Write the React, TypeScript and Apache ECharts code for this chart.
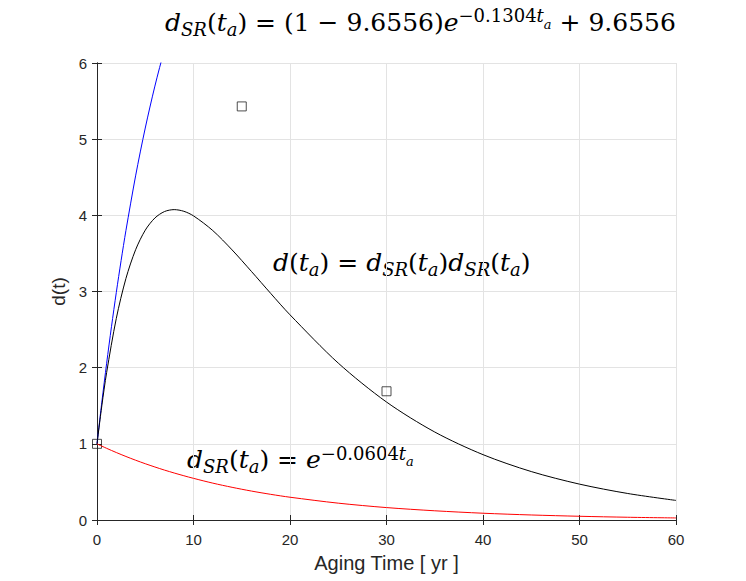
import React, { useEffect, useRef } from "react";
import * as echarts from "echarts";

// Aging time (yr)
const tBlue = [0, 0.5, 1, 1.5, 2, 2.5, 3, 4, 5, 6, 7, 8];
const dBlue = [1, 1.546, 2.058, 2.538, 2.987, 3.408, 3.802, 4.518, 5.146, 5.697, 6.181, 6.606];

const tCurve = [0, 0.5, 1, 2, 3, 4, 5, 6, 7, 8, 9, 10, 12, 14, 16, 18, 20, 25, 30, 35, 40, 45, 50, 55, 60];
const dRed = [1, 0.970, 0.941, 0.886, 0.834, 0.785, 0.739, 0.696, 0.655, 0.617, 0.581, 0.547, 0.484, 0.429, 0.380, 0.337, 0.299, 0.221, 0.163, 0.121, 0.089, 0.066, 0.049, 0.036, 0.027];
const dBlack = [1, 1.500, 1.937, 2.647, 3.172, 3.548, 3.805, 3.965, 4.050, 4.075, 4.053, 3.993, 3.800, 3.546, 3.264, 2.975, 2.694, 2.060, 1.549, 1.155, 0.858, 0.636, 0.471, 0.348, 0.257];

const tMeasured = [0, 15, 30];
const dMeasured = [1, 5.43, 1.69];

const xTicks = [0, 10, 20, 30, 40, 50, 60];
const yTicks = [0, 1, 2, 3, 4, 5, 6];

const zip = (a: number[], b: number[]) => a.map((v, i) => [v, b[i]]);

const FONT = "DejaVu Serif";
const FS = 25;
const SFS = 18;

function richStyles(color: string, supRaise: number) {
  return {
    i: { fontFamily: FONT, fontStyle: "italic", fontSize: FS, color },
    n: { fontFamily: FONT, fontSize: FS, color },
    s: { fontFamily: FONT, fontStyle: "italic", fontSize: SFS, color, padding: [14, 0, 0, 0] },
    p: { fontFamily: FONT, fontSize: SFS, color, padding: [0, 0, supRaise, 0] },
    pi: { fontFamily: FONT, fontStyle: "italic", fontSize: SFS, color, padding: [0, 0, supRaise, 0] },
    ps: { fontFamily: FONT, fontStyle: "italic", fontSize: 13, color, padding: [4, 0, 0, 0] },
  };
}

export default function App() {
  const ref = useRef<HTMLDivElement>(null);
  useEffect(() => {
    const chart = echarts.init(ref.current!, null, { renderer: "svg" });
    const axisColor = "#262626";
    const sans = "Liberation Sans";
    chart.setOption({
      animation: false,
      backgroundColor: "#ffffff",
      grid: { left: 97, top: 63, width: 579, height: 457, containLabel: false },
      xAxis: [
        {
          type: "value",
          min: xTicks[0],
          max: xTicks[xTicks.length - 1],
          interval: 10,
          name: "Aging Time [ yr ]",
          nameLocation: "middle",
          nameGap: 33,
          nameTextStyle: { fontFamily: sans, fontSize: 20, color: axisColor },
          axisLine: { lineStyle: { color: axisColor, width: 1 } },
          axisTick: { inside: true, length: 5, lineStyle: { color: axisColor } },
          axisLabel: { fontFamily: sans, fontSize: 15, color: axisColor, margin: 12 },
          splitLine: { show: true, lineStyle: { color: "#e3e3e3", width: 1 } },
        },
        {
          type: "value",
          position: "top",
          min: 0,
          max: 60,
          interval: 10,
          axisLine: { show: true, lineStyle: { color: axisColor } },
          axisTick: { show: true, inside: true, length: 5, lineStyle: { color: axisColor } },
          axisLabel: { show: false },
          splitLine: { show: false },
        },
      ],
      yAxis: [
        {
          type: "value",
          min: yTicks[0],
          max: yTicks[yTicks.length - 1],
          interval: 1,
          name: "d(t)",
          nameLocation: "middle",
          nameGap: 26,
          nameRotate: 90,
          nameTextStyle: { fontFamily: sans, fontSize: 19, color: axisColor },
          axisLine: { show: true, lineStyle: { color: axisColor, width: 1 } },
          axisTick: { show: true, inside: true, length: 5, lineStyle: { color: axisColor } },
          axisLabel: { fontFamily: sans, fontSize: 15, color: axisColor, margin: 10 },
          splitLine: { show: true, lineStyle: { color: "#e3e3e3", width: 1 } },
        },
        {
          type: "value",
          position: "right",
          min: 0,
          max: 6,
          interval: 1,
          axisLine: { show: true, lineStyle: { color: axisColor } },
          axisTick: { show: true, inside: true, length: 5, lineStyle: { color: axisColor } },
          axisLabel: { show: false },
          splitLine: { show: false },
        },
      ],
      series: [
        {
          type: "line",
          data: zip(tBlue, dBlue),
          smooth: 0.3,
          showSymbol: false,
          clip: true,
          lineStyle: { color: "#0000ff", width: 1 },
        },
        {
          type: "line",
          data: zip(tCurve, dBlack),
          smooth: 0.3,
          showSymbol: false,
          clip: true,
          lineStyle: { color: "#000000", width: 1 },
        },
        {
          type: "line",
          data: zip(tCurve, dRed),
          smooth: 0.3,
          showSymbol: false,
          clip: true,
          lineStyle: { color: "#ff0000", width: 1 },
        },
        {
          type: "scatter",
          data: zip(tMeasured, dMeasured),
          symbol: "rect",
          symbolSize: 9,
          clip: false,
          itemStyle: { color: "rgba(0,0,0,0)", borderColor: "#222222", borderWidth: 1 },
        },
      ],
      graphic: [
        {
          type: "text",
          x: 165,
          y: 22,
          style: {
            text: "{i|d}{s|SR}{n|(}{i|t}{s|a}{n|) = (1 − 9.6556)}{i|e}{p|−0.1304}{pi|t}{ps|a}{n| + 9.6556}",
            rich: richStyles("#2a2ae0", 14),
            verticalAlign: "middle",
          },
        },
        {
          type: "text",
          x: 273,
          y: 262,
          style: {
            text: "{i|d}{n|(}{i|t}{s|a}{n|) = }{i|d}{s|SR}{n|(}{i|t}{s|a}{n|)}{i|d}{s|SR}{n|(}{i|t}{s|a}{n|)}",
            rich: richStyles("#000000", 14),
            verticalAlign: "middle",
          },
        },
        {
          type: "text",
          x: 187,
          y: 459,
          style: {
            text: "{i|d}{s|SR}{n|(}{i|t}{s|a}{n|) = }{i|e}{p|−0.0604}{pi|t}{ps|a}",
            rich: richStyles("#ee0000", 11),
            verticalAlign: "middle",
          },
        },
      ],
    });
    return () => chart.dispose();
  }, []);
  return (
    <div
      ref={ref}
      style={{ position: "absolute", left: 0, top: 0, width: 746, height: 581 }}
    />
  );
}
